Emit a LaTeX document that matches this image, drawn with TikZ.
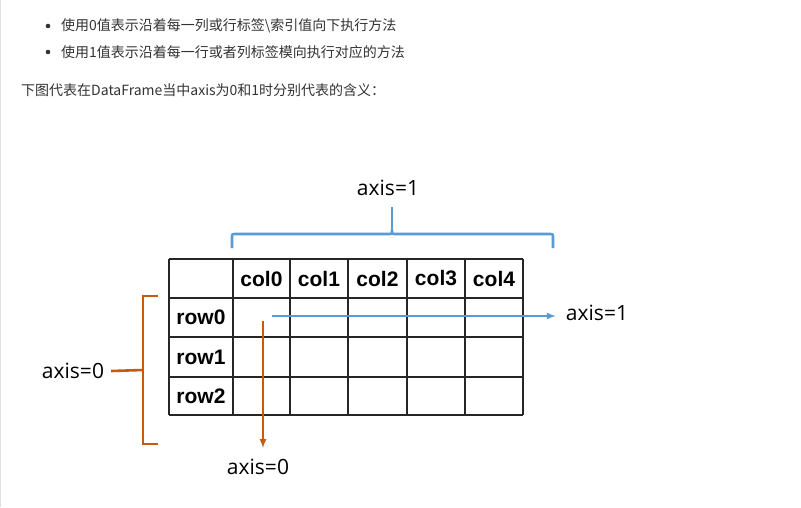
\documentclass[tikz,border=0pt]{standalone}
\usepackage{fontspec}
\setmainfont{Open Sans}
\newfontfamily\cjk{Noto Sans CJK SC}
\newfontfamily\tabfont{Liberation Sans}
\usetikzlibrary{calc}
\definecolor{axblue}{HTML}{5B9BD5}
\definecolor{axorange}{HTML}{C55A11}
\definecolor{txtgrey}{HTML}{333333}
\tikzset{
  celltxt/.style={inner sep=0pt, font=\tabfont\bfseries\fontsize{21}{21}\selectfont},
  axlabel/.style={inner sep=0pt, font=\fontsize{21}{21}\selectfont},
  webtxt/.style={inner sep=0pt, anchor=west, text=txtgrey, font=\cjk\fontsize{14}{14}\selectfont},
}

\begin{document}
\begin{tikzpicture}[x=1pt,y=-1pt]
    \useasboundingbox (0,0) rectangle (801,507);
    \fill[white] (0,0) rectangle (801,507);
    \draw[gray!25, line width=1.2pt] (0.6,0) -- (0.6,507);
    % Page text
    \fill[txtgrey] (48,26) circle (2.3);
    \fill[txtgrey] (48,52) circle (2.3);
    \node[webtxt] (line1) at (61,26) {使用0值表示沿着每一列或行标签\textbackslash 索引值向下执行方法};
    \node[webtxt] (line2) at (61,52) {使用1值表示沿着每一行或者列标签模向执行对应的方法};
    \node[webtxt] (line3) at (21,90) {下图代表在DataFrame当中axis为0和1时分别代表的含义：};
    % Table grid
    \foreach \x in {169,233,290,348,407,465,523} {
      \draw[line width=1.6pt, black!85] (\x,259) -- (\x,415);
    }
    \foreach \y in {259,298,337,377,415} {
      \draw[line width=1.6pt, black!85] (169,\y) -- (523,\y);
    }
    % Labels
    \foreach \i/\x in {0/261.5,1/319,2/377.5,3/436,4/494} {
      \node[celltxt] (col\i) at (\x,278.5) {col\i};
    }
    \foreach \i/\y in {0/317.5,1/357,2/396} {
      \node[celltxt] (row\i) at (201,\y) {row\i};
    }
    \node[axlabel] (ax1top) at (388,188) {axis=1};
    \node[axlabel] (ax1right) at (597,313) {axis=1};
    \node[axlabel] (ax0left) at (73,371) {axis=0};
    \node[axlabel] (ax0down) at (258,467) {axis=0};
    % Brackets
    \draw[axblue, line width=2.6pt]
      (232,248) -- (232,238) .. controls (232,234) .. (236,234) -- (388,234)
      .. controls (392,234) .. (392,230) .. controls (392,234) .. (396,234)
      -- (549,234) .. controls (553,234) .. (553,238) -- (553,248);
    \coordinate (bracetip) at (392,230);
    \coordinate (stemtop) at (392,207);
    \draw[axblue, line width=2.6pt] (bracetip) -- (stemtop);
    \draw[axorange, line width=2.6pt] (158,296) -- (143,296) -- (143,444) -- (158,444);
    \coordinate (bracemid) at (143,370);
    \draw[axorange, line width=2.6pt] ($(ax0left.east)+(7,0)$) -- (bracemid);
    % Arrows
    \coordinate (a1start) at (272,316);
    \coordinate (a0start) at (263,321);
    \draw[axblue, line width=2pt, -latex] (a1start) -- ($(ax1right.west)+(-10,3)$);
    \draw[axorange, line width=2pt, -latex] (a0start) -- ($(a0start |- ax0down.north)+(0,-11)$);
  \end{tikzpicture}
\end{document}
